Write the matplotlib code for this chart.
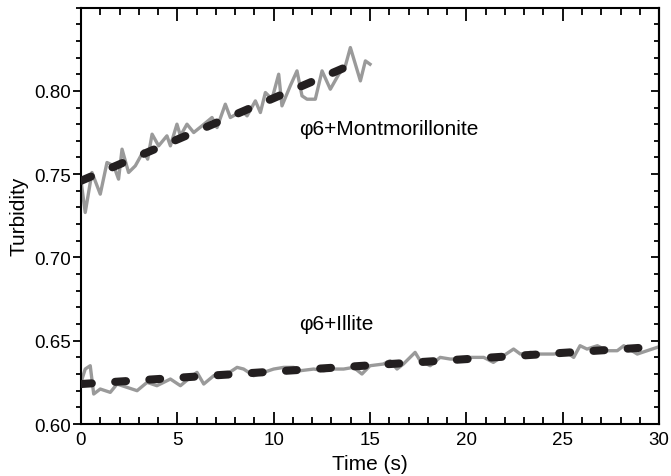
import matplotlib
matplotlib.use("Agg")
import matplotlib.pyplot as plt
from matplotlib.ticker import MultipleLocator, FixedLocator, FormatStrFormatter

plt.rcParams['font.family'] = ['Liberation Sans', 'DejaVu Sans']

# montmorillonite raw turbidity trace
t_mont = [0.0, 0.22, 0.57, 1.0, 1.35, 1.7, 1.95, 2.13, 2.47, 2.82, 3.25, 3.46, 3.69, 4.03,
          4.46, 4.64, 4.98, 5.16, 5.5, 5.85, 6.28, 6.8, 7.06, 7.49, 7.75, 8.36, 8.62, 9.05,
          9.31, 9.57, 9.91, 10.26, 10.43, 10.86, 11.21, 11.47, 11.73, 12.16, 12.51, 12.94,
          13.38, 13.72, 13.98, 14.5, 14.76, 15.0]
v_mont = [0.746, 0.727, 0.751, 0.738, 0.757, 0.755, 0.747, 0.765, 0.751, 0.755, 0.764, 0.759,
          0.774, 0.767, 0.773, 0.767, 0.780, 0.773, 0.780, 0.775, 0.779, 0.784, 0.778, 0.792,
          0.784, 0.788, 0.785, 0.794, 0.787, 0.799, 0.795, 0.810, 0.791, 0.803, 0.812, 0.797,
          0.795, 0.795, 0.812, 0.801, 0.810, 0.815, 0.826, 0.806, 0.818, 0.816]

# illite raw turbidity trace
t_ill = [0.0, 0.22, 0.48, 0.66, 1.0, 1.52, 1.87, 2.39, 2.91, 3.43, 3.94, 4.64, 5.16, 5.68,
         6.02, 6.37, 6.89, 7.58, 8.1, 8.44, 8.96, 9.48, 10.0, 10.52, 11.04, 11.38, 12.08,
         12.6, 13.11, 13.63, 14.15, 14.58, 15.0, 15.69, 16.04, 16.4, 16.73, 17.34, 17.6,
         18.12, 18.64, 19.16, 19.68, 20.2, 20.9, 21.4, 21.93, 22.45, 22.8, 23.32, 23.84,
         24.53, 25.22, 25.57, 25.9, 26.26, 26.8, 27.3, 27.83, 28.17, 28.87, 29.38, 29.9]
v_ill = [0.625, 0.633, 0.635, 0.618, 0.621, 0.619, 0.624, 0.622, 0.620, 0.625, 0.623, 0.627,
         0.623, 0.628, 0.631, 0.624, 0.629, 0.630, 0.634, 0.633, 0.629, 0.631, 0.633, 0.634,
         0.634, 0.632, 0.633, 0.632, 0.633, 0.633, 0.634, 0.630, 0.635, 0.636, 0.638, 0.633,
         0.636, 0.643, 0.638, 0.635, 0.640, 0.639, 0.639, 0.640, 0.640, 0.637, 0.641, 0.645,
         0.642, 0.643, 0.642, 0.642, 0.643, 0.640, 0.647, 0.645, 0.647, 0.644, 0.644, 0.647,
         0.642, 0.644, 0.646]

# linear fits (end points)
fit_mont_t = [0.0, 14.1]
fit_mont_v = [0.746, 0.816]
fit_ill_t = [0.0, 29.4]
fit_ill_v = [0.624, 0.646]

y_major = [0.60, 0.65, 0.70, 0.75, 0.80]

fig = plt.figure(figsize=(6.71, 4.77), dpi=100)
ax = fig.add_axes([0.1207, 0.109, 0.8615, 0.873])

GRAY = '#9a9a9a'
DARK = '#231f20'

ax.plot(t_mont, v_mont, color=GRAY, lw=2.4, zorder=2)
ax.plot(t_ill, v_ill, color=GRAY, lw=2.4, zorder=2)
for ft, fv in [(fit_mont_t, fit_mont_v), (fit_ill_t, fit_ill_v)]:
    ax.plot(ft, fv, color=DARK, lw=5.8, dashes=(1.35, 2.9),
            dash_capstyle='round', solid_capstyle='round', zorder=3)

ax.text(11.3, 0.7775, 'φ6+Montmorillonite', fontsize=15, va='center')
ax.text(11.3, 0.6605, 'φ6+Illite', fontsize=15, va='center')

ax.set_xlim(0, 30)
ax.set_ylim(0.60, 0.85)
ax.xaxis.set_major_locator(MultipleLocator(5))
ax.xaxis.set_minor_locator(MultipleLocator(1))
ax.yaxis.set_major_locator(FixedLocator(y_major))
ax.yaxis.set_minor_locator(MultipleLocator(0.01))
ax.yaxis.set_major_formatter(FormatStrFormatter('%.2f'))

for s in ax.spines.values():
    s.set_linewidth(1.5)

ax.tick_params(axis='x', which='both', direction='in', top=True, width=1.3, labelsize=13.5, pad=5)
ax.tick_params(axis='x', which='major', length=9)
ax.tick_params(axis='x', which='minor', length=5)
ax.tick_params(axis='y', which='both', direction='out', right=False, width=1.3, labelsize=13.5, pad=1)
ax.tick_params(axis='y', which='major', length=6)
ax.tick_params(axis='y', which='minor', length=3.5)

sec = ax.secondary_yaxis('right')
sec.yaxis.set_major_locator(FixedLocator(y_major))
sec.yaxis.set_minor_locator(MultipleLocator(0.01))
sec.tick_params(axis='y', which='both', direction='in', width=1.3, labelright=False)
sec.tick_params(axis='y', which='major', length=6)
sec.tick_params(axis='y', which='minor', length=3.5)
sec.spines['right'].set_linewidth(1.5)

ax.set_xlabel('Time (s)', fontsize=15, labelpad=4)
ax.set_ylabel('Turbidity', fontsize=15, labelpad=4)

fig.savefig('out.png', dpi=100)
